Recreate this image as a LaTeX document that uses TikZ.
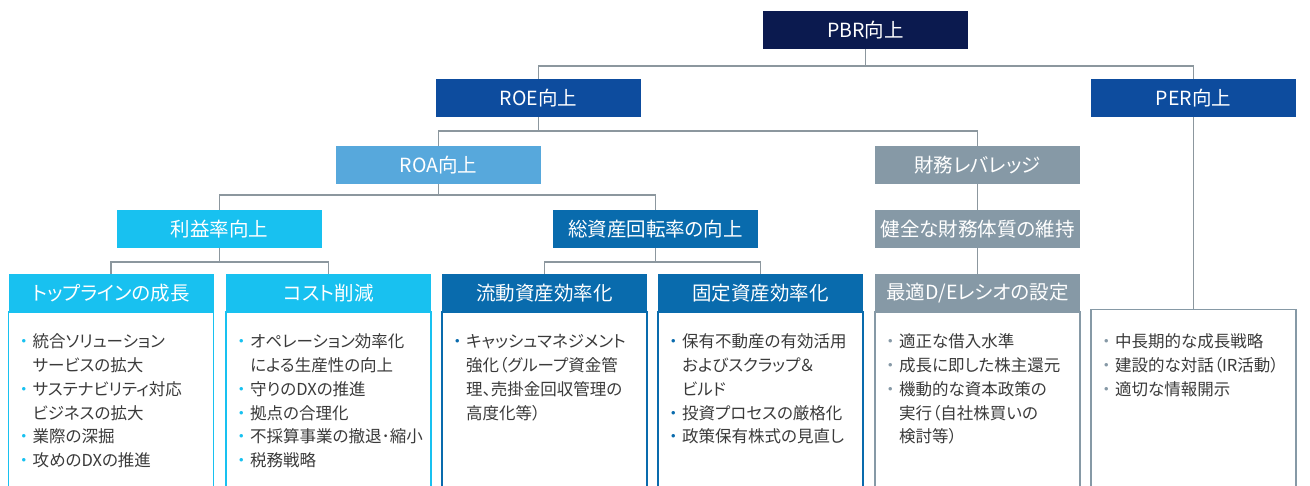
\documentclass[tikz,border=0pt]{standalone}
\usepackage{fontspec}
\setmainfont{Noto Sans CJK JP}[RawFeature=+palt]
\newfontfamily\bulfam{Noto Sans CJK JP}
\definecolor{navy}{HTML}{0B1A4F}
\definecolor{roeblue}{HTML}{0D4C9E}
\definecolor{roablue}{HTML}{57A8DC}
\definecolor{finGray}{HTML}{8699A6}
\definecolor{cyanc}{HTML}{18C1F0}
\definecolor{midblue}{HTML}{096BAD}
\definecolor{connc}{HTML}{8C979E}
\definecolor{txt}{HTML}{3A3A3A}
\newcommand\bu[1]{\makebox[11pt][l]{\hspace*{-6pt}{\bulfam\textcolor{#1}{・}}}}
\newcommand\ind{\hspace*{11pt}}
\newcommand\btxt[1]{\parbox[t]{195pt}{\fontsize{16.5pt}{23.7pt}\selectfont\leavevmode\color{txt}#1}}
\begin{document}
\begin{tikzpicture}[x=1pt,y=-1pt,
 hdr/.style={rectangle, minimum width=205pt, minimum height=38pt, inner sep=0pt, text=white, font=\fontsize{19.5pt}{22pt}\selectfont},
 conline/.style={draw=connc, line width=1.5pt},
 bodybox/.style={draw=#1, line width=1.5pt},
 btx/.style={anchor=base west, inner sep=0pt}]
\useasboundingbox (0,0) rectangle (1310,486);
\clip (0,0) rectangle (1310,486);
\coordinate (bot) at (0,505);

% header nodes
\node[hdr, fill=navy] (pbr) at (865.5,30) {PBR向上};
\node[hdr, fill=roeblue] (roe) at (538.5,98) {ROE向上};
\node[hdr, fill=roeblue] (per) at (1193.5,98) {PER向上};
\node[hdr, fill=roablue] (roa) at (438.5,165) {ROA向上};
\node[hdr, fill=finGray] (lev) at (977.5,165) {財務レバレッジ};
\node[hdr, fill=cyanc] (prof) at (219.5,229) {利益率向上};
\node[hdr, fill=midblue] (turn) at (655.5,229) {総資産回転率の向上};
\node[hdr, fill=finGray] (sound) at (977.5,229) {健全な財務体質の維持};
\node[hdr, fill=cyanc] (top) at (111,293) {トップラインの成長};
\node[hdr, fill=cyanc] (cost) at (328.5,293) {コスト削減};
\node[hdr, fill=midblue] (cur) at (544.5,293) {流動資産効率化};
\node[hdr, fill=midblue] (fix) at (760.5,293) {固定資産効率化};
\node[hdr, fill=finGray] (de) at (977.5,293) {最適D/Eレシオの設定};
\node[draw=finGray, line width=1.5pt, minimum width=205pt, minimum height=200pt, inner sep=0pt, anchor=north] (perbody) at (1193.5,309) {};

% body boxes
\draw[bodybox=cyanc] (top.south west) rectangle (top.east |- bot);
\draw[bodybox=cyanc] (cost.south west) rectangle (cost.east |- bot);
\draw[bodybox=midblue] (cur.south west) rectangle (cur.east |- bot);
\draw[bodybox=midblue] (fix.south west) rectangle (fix.east |- bot);
\draw[bodybox=finGray] (de.south west) rectangle (de.east |- bot);

% connectors
\draw[conline] (pbr.south) -- ++(0,17) -| (roe.north);
\draw[conline] (pbr.south) -- ++(0,17) -| (per.north);
\draw[conline] (roe.south) -- ++(0,14) -| (roa.north);
\draw[conline] (roe.south) -- ++(0,14) -| (lev.north);
\draw[conline] (roa.south) -- ++(0,11) -| (prof.north);
\draw[conline] (roa.south) -- ++(0,11) -| (turn.north);
\draw[conline] (prof.south) -- ++(0,14) -| (top.north);
\draw[conline] (prof.south) -- ++(0,14) -| (cost.north);
\draw[conline] (turn.south) -- ++(0,14) -| (cur.north);
\draw[conline] (turn.south) -- ++(0,14) -| (fix.north);
\draw[conline] (lev.south) -- (sound.north);
\draw[conline] (sound.south) -- (de.north);
\draw[conline] (per.south) -- (perbody.north);

% body texts
\node[btx] (ttop) at (21.5,348) {\btxt{%
\bu{cyanc}統合ソリューション\\%
\ind サービスの拡大\\%
\bu{cyanc}サステナビリティ対応\\%
\ind ビジネスの拡大\\%
\bu{cyanc}業際の深掘\\%
\bu{cyanc}攻めのDXの推進}};
\node[btx] (tcost) at (239,348) {\btxt{%
\bu{cyanc}オペレーション効率化\\%
\ind による生産性の向上\\%
\bu{cyanc}守りのDXの推進\\%
\bu{cyanc}拠点の合理化\\%
\bu{cyanc}不採算事業の撤退･縮小\\%
\bu{cyanc}税務戦略}};
\node[btx] (tcur) at (455,348) {\btxt{%
\bu{midblue}キャッシュマネジメント\\%
\ind 強化（グループ資金管\\%
\ind 理、売掛金回収管理の\\%
\ind 高度化等）}};
\node[btx] (tfix) at (671,348) {\btxt{%
\bu{midblue}保有不動産の有効活用\\%
\ind およびスクラップ＆\\%
\ind ビルド\\%
\bu{midblue}投資プロセスの厳格化\\%
\bu{midblue}政策保有株式の見直し}};
\node[btx] (tde) at (888,348) {\btxt{%
\bu{finGray}適正な借入水準\\%
\bu{finGray}成長に即した株主還元\\%
\bu{finGray}機動的な資本政策の\\%
\ind 実行（自社株買いの\\%
\ind 検討等）}};
\node[btx] (tper) at (1104,348) {\btxt{%
\bu{finGray}中長期的な成長戦略\\%
\bu{finGray}建設的な対話（IR活動）\\%
\bu{finGray}適切な情報開示}};
\end{tikzpicture}
\end{document}
